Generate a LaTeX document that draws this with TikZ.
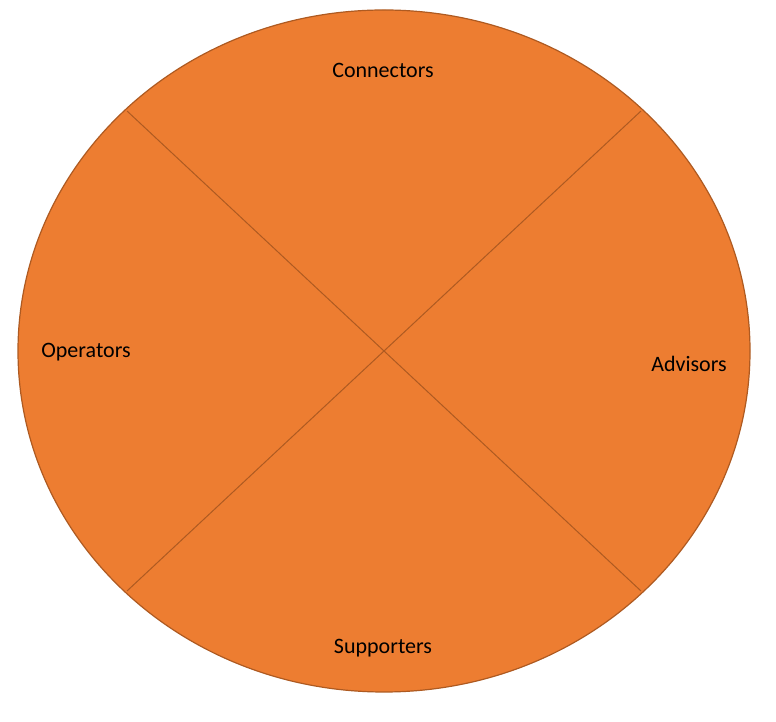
\documentclass[tikz,border=0pt]{standalone}
\usepackage{fontspec}
\setmainfont{Carlito}
\begin{document}
\begin{tikzpicture}[x=1pt,y=1pt,
  lbl/.style={font=\fontsize{22}{26}\selectfont, inner sep=0pt}]
\definecolor{fillor}{HTML}{ED7D31}
\definecolor{lineor}{HTML}{AE5A21}
\useasboundingbox (0,0) rectangle (776,722);
\draw[fill=fillor, draw=lineor, line width=1.2pt] (384,371) ellipse [x radius=366, y radius=341];
\coordinate (a1) at (127,611); \coordinate (a2) at (641,131);
\coordinate (b1) at (641,611); \coordinate (b2) at (127,131);
\draw[lineor, line width=1pt] (a1) -- (a2);
\draw[lineor, line width=1pt] (b1) -- (b2);
\node[lbl] (c) at (383,652) {Connectors};
\node[lbl] (o) at (86,370) {Operators};
\node[lbl] (ad) at (689,358) {Advisors};
\node[lbl] (s) at (383,74) {Supporters};
\end{tikzpicture}
\end{document}
